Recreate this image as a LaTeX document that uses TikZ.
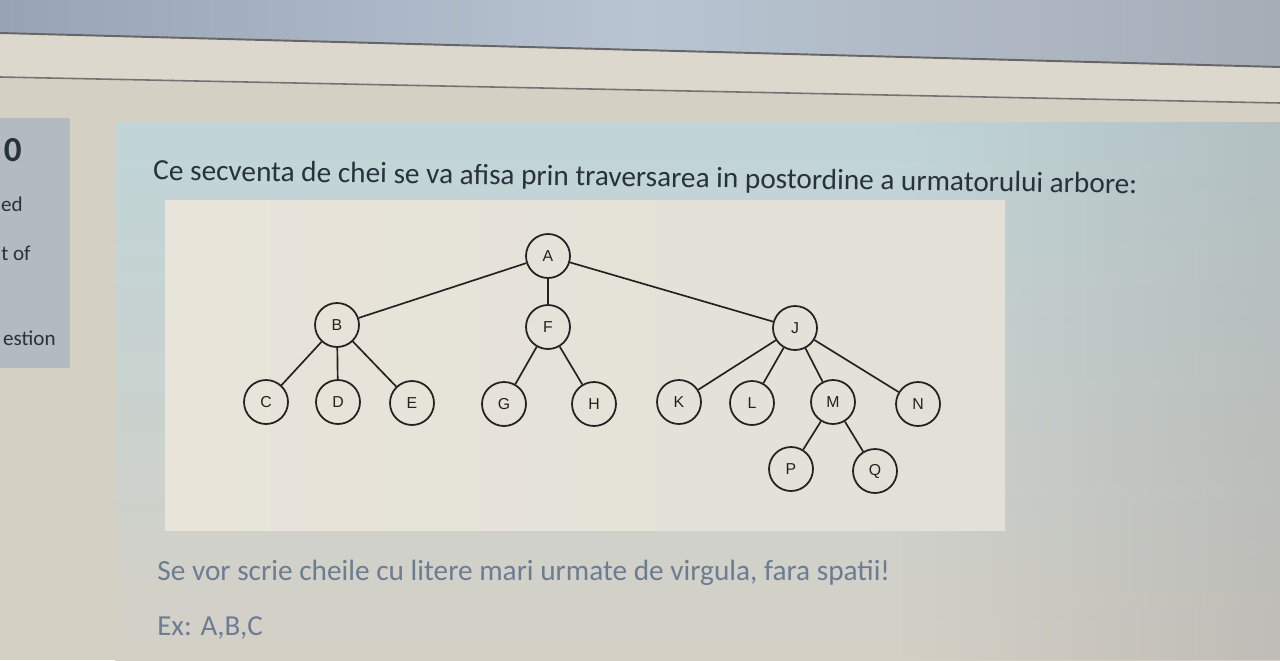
\documentclass[tikz,border=0pt]{standalone}
\usepackage{fontspec}
\setmainfont{Carlito}
\newfontfamily\treefont{Liberation Sans}
\usetikzlibrary{fadings}
\definecolor{beige}{HTML}{D5D0C4}
\definecolor{beigelt}{HTML}{DCD8CE}
\definecolor{photoL}{HTML}{98A4B4}
\definecolor{photoM}{HTML}{B8C4D2}
\definecolor{photoR}{HTML}{A6ADB7}
\definecolor{sidepanel}{HTML}{B4BBC0}
\definecolor{paneltop}{HTML}{C0D5D8}
\definecolor{panelbot}{HTML}{D4D0C6}
\definecolor{imgbox}{HTML}{E8E4DA}
\definecolor{imgboxR}{HTML}{E2E0D7}
\definecolor{qtext}{HTML}{28323C}
\definecolor{hint}{HTML}{6C7C92}
\definecolor{ink}{HTML}{222222}
\begin{document}
\begin{tikzpicture}[x=0.02cm,y=-0.02cm,
  key/.style={circle, draw=ink, line width=1pt, minimum size=0.88cm, inner sep=0pt,
    font=\treefont\fontsize{9}{10}\selectfont, text=ink},
  edge/.style={draw=ink, line width=0.95pt},
  sidetxt/.style={anchor=east, text=qtext, inner sep=0pt, font=\fontsize{12}{14}\selectfont}]
\useasboundingbox (0,0) rectangle (1280,660);
% ---------- background ----------
\fill[beige] (0,0) rectangle (1280,660);
\fill[beigelt] (0,33) -- (1280,67) -- (1280,103) -- (0,77) -- cycle;
\shade[left color=photoL, right color=photoR, middle color=photoM] (0,0) -- (1280,0) -- (1280,67) -- (0,33) -- cycle;
\draw[draw=black!60, line width=1.1pt] (0,33) -- (1280,67);
\draw[draw=black!55, line width=0.9pt] (0,77) -- (1280,103);
% left side panel
\fill[sidepanel] (0,118) rectangle (70,368);
% main question panel
\shade[top color=paneltop, bottom color=panelbot] (115,122) rectangle (1280,660);
\fill[black!40, path fading=west, fill opacity=0.35] (900,122) rectangle (1280,660);
% image box
\shade[left color=imgbox, right color=imgboxR] (165,200) rectangle (1005,530);
% ---------- texts ----------
\node[anchor=east, text=qtext, inner sep=0pt, font=\bfseries\fontsize{20}{22}\selectfont] (zero) at (22,150) {0};
\node[sidetxt] (ed) at (23,204) {ed};
\node[sidetxt] (tof) at (31,253) {t of};
\node[sidetxt] (estion) at (56,338) {estion};
\node[anchor=west, text=qtext, inner sep=0pt, rotate=-0.8] (question) at (153,172)
  {\resizebox{560pt}{!}{\fontsize{14}{16}\selectfont Ce secventa de chei se va afisa prin traversarea in postordine a urmatorului arbore:}};
\node[anchor=west, text=hint, inner sep=0pt] (hint1) at (157,573)
  {\resizebox{417pt}{!}{\fontsize{14}{16}\selectfont Se vor scrie cheile cu litere mari urmate de virgula, fara spatii!}};
\node[anchor=west, text=hint, inner sep=0pt] (hint2) at (157,628)
  {\resizebox{60pt}{!}{\fontsize{14}{16}\selectfont Ex: A,B,C}};
% ---------- tree ----------
\node[key] (A) at (548,256) {A};
\node[key] (B) at (337,325) {B};
\node[key] (F) at (548,327) {F};
\node[key] (J) at (795,328) {J};
\node[key] (C) at (266,402) {C};
\node[key] (D) at (338,402) {D};
\node[key] (E) at (412,403) {E};
\node[key] (G) at (504,404) {G};
\node[key] (H) at (594,404) {H};
\node[key] (K) at (679,402) {K};
\node[key] (L) at (752,403) {L};
\node[key] (M) at (833,402) {M};
\node[key] (N) at (918,404) {N};
\node[key] (P) at (791,469) {P};
\node[key] (Q) at (875,471) {Q};
\draw[edge] (A) -- (B);
\draw[edge] (A) -- (F);
\draw[edge] (A) -- (J);
\draw[edge] (B) -- (C);
\draw[edge] (B) -- (D);
\draw[edge] (B) -- (E);
\draw[edge] (F) -- (G);
\draw[edge] (F) -- (H);
\draw[edge] (J) -- (K);
\draw[edge] (J) -- (L);
\draw[edge] (J) -- (M);
\draw[edge] (J) -- (N);
\draw[edge] (M) -- (P);
\draw[edge] (M) -- (Q);
\end{tikzpicture}
\end{document}
